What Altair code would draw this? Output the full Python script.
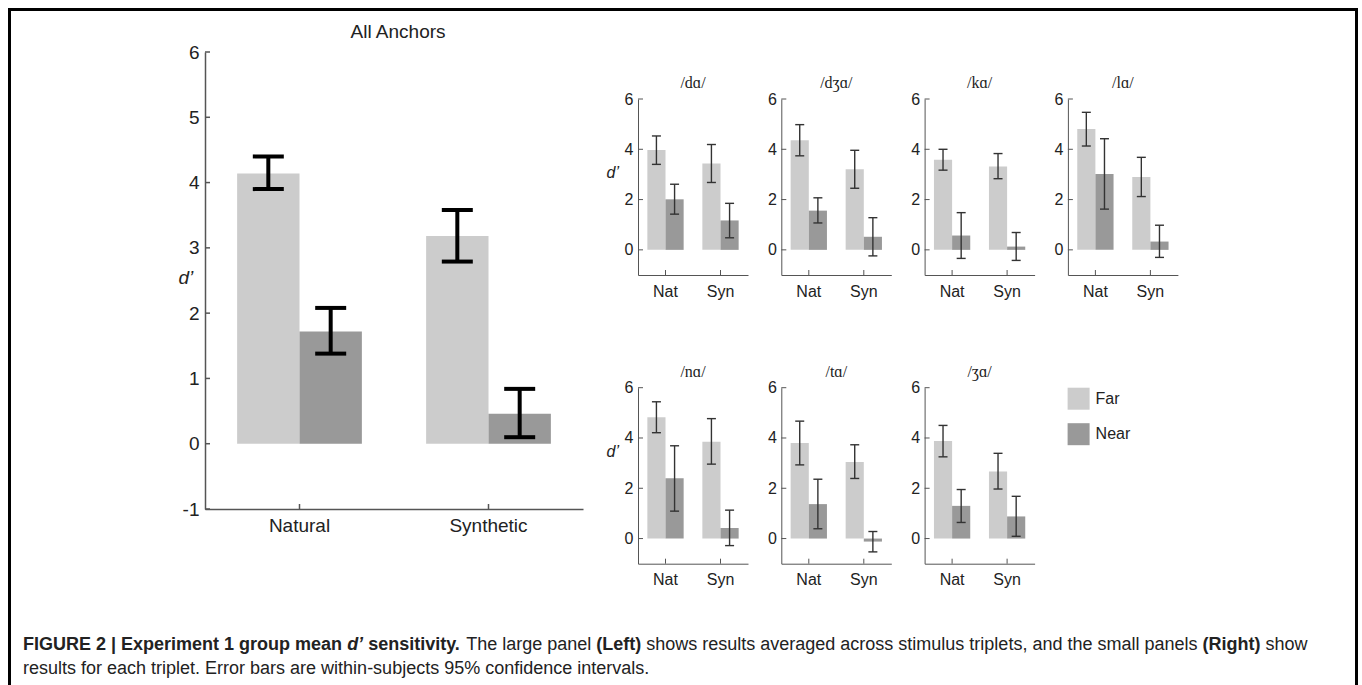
import altair as alt
import pandas as pd

# ---------------- data ----------------
distances = ["Far", "Near"]

big_conditions = ["Natural", "Synthetic"]
big_far = [4.14, 3.18]
big_far_low = [3.90, 2.79]
big_far_high = [4.40, 3.58]
big_near = [1.72, 0.46]
big_near_low = [1.38, 0.10]
big_near_high = [2.08, 0.84]
big_ticks = [-1, 0, 1, 2, 3, 4, 5, 6]

triplets = ["/dɑ/", "/dʒɑ/", "/kɑ/", "/lɑ/", "/nɑ/", "/tɑ/", "/ʒɑ/"]
small_conditions = ["Nat", "Syn"]
small_ticks = [0, 2, 4, 6]
# one [Nat, Syn] pair per triplet
far_mean = [[3.97, 3.43], [4.36, 3.21], [3.58, 3.32], [4.81, 2.90], [4.82, 3.85], [3.80, 3.04], [3.88, 2.67]]
far_low = [[3.40, 2.68], [3.74, 2.45], [3.17, 2.83], [4.13, 2.12], [4.21, 2.96], [2.93, 2.39], [3.25, 1.97]]
far_high = [[4.53, 4.19], [4.98, 3.96], [4.00, 3.83], [5.47, 3.68], [5.44, 4.77], [4.67, 3.73], [4.50, 3.39]]
near_mean = [[2.01, 1.17], [1.56, 0.52], [0.57, 0.13], [3.02, 0.33], [2.40, 0.42], [1.37, -0.12], [1.30, 0.88]]
near_low = [[1.42, 0.48], [1.07, -0.24], [-0.34, -0.42], [1.62, -0.30], [1.09, -0.28], [0.39, -0.53], [0.64, 0.09]]
near_high = [[2.61, 1.85], [2.07, 1.28], [1.48, 0.69], [4.42, 0.98], [3.69, 1.13], [2.36, 0.28], [1.95, 1.68]]

caption_line1 = [
    ("FIGURE 2 | Experiment 1 group mean ", "b"),
    ("d’", "bi"),
    (" sensitivity.", "b"),
    (" The large panel ", "r"),
    ("(Left)", "b"),
    (" shows results averaged across stimulus triplets, and the small panels ", "r"),
    ("(Right)", "b"),
    (" show", "r"),
]
caption_line2 = [
    ("results for each triplet. Error bars are within-subjects 95% confidence intervals.", "r"),
]

# ---------------- styling ----------------
FONT = "Liberation Sans, Arial, Helvetica, sans-serif"
SERIF = "Liberation Serif, DejaVu Serif, serif"
BAR_COLORS = ["#cccccc", "#999999"]
AXIS_COLOR = "#555555"
TEXT_COLOR = "#222222"
HYPHEN_LABEL = "replace(datum.label, '\u2212', '-')"


def build_df(conds, fm, fl, fh, nm, nl, nh):
    rows = []
    for i, c in enumerate(conds):
        rows.append(dict(cond=c, dist="Far", mean=fm[i], low=fl[i], high=fh[i]))
        rows.append(dict(cond=c, dist="Near", mean=nm[i], low=nl[i], high=nh[i]))
    return pd.DataFrame(rows)


def panel(df, conds, ticks, width, height, title, title_font, title_size, title_offset, title_dx,
          font_size, pad_x, pad_y, dom_w, err_w, cap, err_color,
          ytitle=None, ytitle_x=0, ytitle_y=0, legend=None):
    xscale = alt.Scale(domain=conds, paddingInner=0.34, paddingOuter=0.17)
    yscale = alt.Scale(domain=[-1, 6], nice=False, zero=False)
    oscale = alt.Scale(domain=distances, paddingInner=0, paddingOuter=0)
    xaxis = alt.Axis(title=None, labelAngle=0, ticks=False, labelFontSize=font_size,
                     labelPadding=pad_x, domainWidth=dom_w, labelFont=FONT)
    yargs = dict(values=ticks, ticks=False, labelFontSize=font_size, labelPadding=pad_y,
                 domainWidth=dom_w, labelFont=FONT, labelExpr=HYPHEN_LABEL)
    if ytitle:
        yaxis = alt.Axis(title=ytitle, titleAngle=0, titleAlign="left", titleBaseline="middle",
                         titleX=ytitle_x, titleY=ytitle_y, titleFontSize=font_size,
                         titleFontStyle="italic", titleFontWeight="normal", titleFont=FONT,
                         titleColor=TEXT_COLOR, **yargs)
    else:
        yaxis = alt.Axis(title=None, **yargs)
    X = alt.X("cond:N", scale=xscale, axis=xaxis)
    XO = alt.XOffset("dist:N", scale=oscale)
    base = alt.Chart(df)
    if legend is None:
        color = alt.Color("dist:N", scale=alt.Scale(domain=distances, range=BAR_COLORS), legend=None)
    else:
        color = alt.Color("dist:N", scale=alt.Scale(domain=distances, range=BAR_COLORS), legend=legend)
    bars = base.mark_bar().encode(
        x=X, xOffset=XO,
        y=alt.Y("mean:Q", scale=yscale, axis=yaxis), y2=alt.datum(0),
        color=color)
    rules = base.mark_rule(color=err_color, strokeWidth=err_w).encode(
        x=X, xOffset=XO, y=alt.Y("low:Q", scale=yscale, axis=yaxis), y2="high:Q")
    cap_lo = base.mark_tick(color=err_color, thickness=err_w, size=cap, opacity=1).encode(
        x=X, xOffset=XO, y=alt.Y("low:Q", scale=yscale, axis=yaxis))
    cap_hi = base.mark_tick(color=err_color, thickness=err_w, size=cap, opacity=1).encode(
        x=X, xOffset=XO, y=alt.Y("high:Q", scale=yscale, axis=yaxis))
    ytk = alt.Chart(pd.DataFrame({"v": ticks})).mark_rule(color=AXIS_COLOR, strokeWidth=dom_w).encode(
        y=alt.Y("v:Q", scale=yscale, axis=yaxis), x=alt.value(0), x2=alt.value(5))
    xtk = alt.Chart(pd.DataFrame({"cond": conds})).mark_rule(color=AXIS_COLOR, strokeWidth=dom_w).encode(
        x=alt.X("cond:N", scale=xscale, axis=xaxis), y=alt.value(height), y2=alt.value(height - 5))
    return alt.layer(bars, rules, cap_lo, cap_hi, ytk, xtk).properties(
        width=width, height=height,
        title=alt.TitleParams(text=title, font=title_font, fontSize=title_size, fontWeight="normal",
                              color=TEXT_COLOR, offset=title_offset, dx=title_dx))


def blank(w, h, fill=None):
    view = alt.ViewBackground(strokeWidth=0, fill=fill) if fill else alt.ViewBackground(strokeWidth=0)
    return alt.Chart(pd.DataFrame({"a": []})).mark_point().properties(width=w, height=h, view=view)


# ---------------- large panel ----------------
big_df = build_df(big_conditions, big_far, big_far_low, big_far_high, big_near, big_near_low, big_near_high)
big = panel(big_df, big_conditions, big_ticks, 378, 457, "All Anchors", FONT, 19, 1, 4,
            19, 7, 6, 1.5, 4, 31, "#000000", ytitle="d’", ytitle_x=-27, ytitle_y=225)

# ---------------- small panels ----------------
legend = alt.Legend(title=None, orient="right", offset=33, symbolType="square", symbolSize=484,
                    symbolStrokeWidth=0, symbolOpacity=1, labelFont=FONT, labelFontSize=16,
                    labelColor=TEXT_COLOR, labelOffset=6, rowPadding=13.5, padding=0)
smalls = []
for i, name in enumerate(triplets):
    d = build_df(small_conditions, far_mean[i], far_low[i], far_high[i],
                 near_mean[i], near_low[i], near_high[i])
    kw = {}
    if i == 0:
        kw = dict(ytitle="d’", ytitle_x=-32, ytitle_y=73)
    elif i == 4:
        kw = dict(ytitle="d’", ytitle_x=-32, ytitle_y=64)
    if i == 6:
        kw["legend"] = legend
    smalls.append(panel(d, small_conditions, small_ticks, 110, 176, name, SERIF, 16, 0, 0,
                        16, 8, 5, 1, 1.4, 9, "#333333", **kw))

right_grid = alt.concat(*smalls, columns=4, bounds="flush",
                        spacing=alt.RowColnumber(row=112.7, column=33.3)).resolve_legend(
    color="independent").resolve_scale(xOffset="independent")
right_wrap = alt.vconcat(blank(1, 1), right_grid, spacing=22)
main = alt.hconcat(blank(144, 1), big, right_wrap, spacing=23)

# ---------------- caption ----------------
CAP = 18
REG = {' ': 278, '(': 333, ')': 333, ',': 278, '-': 333, '.': 278, '%': 889, '|': 260, '’': 222,
       'E': 667, 'F': 611, 'G': 778, 'I': 278, 'L': 556, 'R': 722, 'T': 611, 'U': 722,
       'a': 556, 'b': 556, 'c': 500, 'd': 556, 'e': 556, 'f': 278, 'g': 556, 'h': 556, 'i': 222,
       'j': 222, 'k': 500, 'l': 222, 'm': 833, 'n': 556, 'o': 556, 'p': 556, 'q': 556, 'r': 333,
       's': 500, 't': 278, 'u': 556, 'v': 500, 'w': 722, 'x': 500, 'y': 500, 'z': 500}
BOLD = {' ': 278, '(': 333, ')': 333, ',': 278, '-': 333, '.': 278, '%': 889, '|': 280, '’': 278,
        'E': 667, 'F': 611, 'G': 778, 'I': 278, 'L': 611, 'R': 722, 'T': 611, 'U': 722,
        'a': 556, 'b': 611, 'c': 556, 'd': 611, 'e': 556, 'f': 333, 'g': 611, 'h': 611, 'i': 278,
        'j': 278, 'k': 556, 'l': 278, 'm': 889, 'n': 611, 'o': 611, 'p': 611, 'q': 611, 'r': 389,
        's': 556, 't': 333, 'u': 611, 'v': 556, 'w': 778, 'x': 556, 'y': 556, 'z': 500}


def tw(s, style):
    tab = REG if style == "r" else BOLD
    return sum(tab.get(ch, 556) for ch in s) * CAP / 1000.0


cap_rows = {"r": [], "b": [], "bi": []}
for line, ypos in ((caption_line1, 45), (caption_line2, 69)):
    cursor = 12.0
    for seg, st in line:
        lead = len(seg) - len(seg.lstrip())
        cap_rows[st].append(dict(text=seg.strip(), x=cursor + tw(seg[:lead], st), y=ypos))
        cursor += tw(seg, st)

styles = {"r": ("normal", "normal"), "b": ("bold", "normal"), "bi": ("bold", "italic")}
cap_layers = []
for st, rows in cap_rows.items():
    w, fs = styles[st]
    cap_layers.append(
        alt.Chart(pd.DataFrame(rows)).mark_text(align="left", baseline="middle", font=FONT, fontSize=CAP,
                                                fontWeight=w, fontStyle=fs, color=TEXT_COLOR).encode(
            x=alt.X("x:Q", scale=None, axis=None), y=alt.Y("y:Q", scale=None, axis=None), text="text:N"))
caption = alt.layer(*cap_layers).properties(width=1344, height=78)

# ---------------- figure with frame ----------------
content = alt.vconcat(blank(1344, 3, "#000000"), main, caption, spacing=12)
figure = alt.hconcat(blank(3, 677, "#000000"), content, blank(3, 677, "#000000"), spacing=0).properties(
    padding={"left": 8, "top": 8, "right": 4, "bottom": 0}, background="white")

chart = figure.configure_view(strokeWidth=0).configure_axis(
    labelColor=TEXT_COLOR, domainColor=AXIS_COLOR, grid=False, labelFont=FONT)

chart.save("out.html", embed_options={"renderer": "svg", "actions": False})
